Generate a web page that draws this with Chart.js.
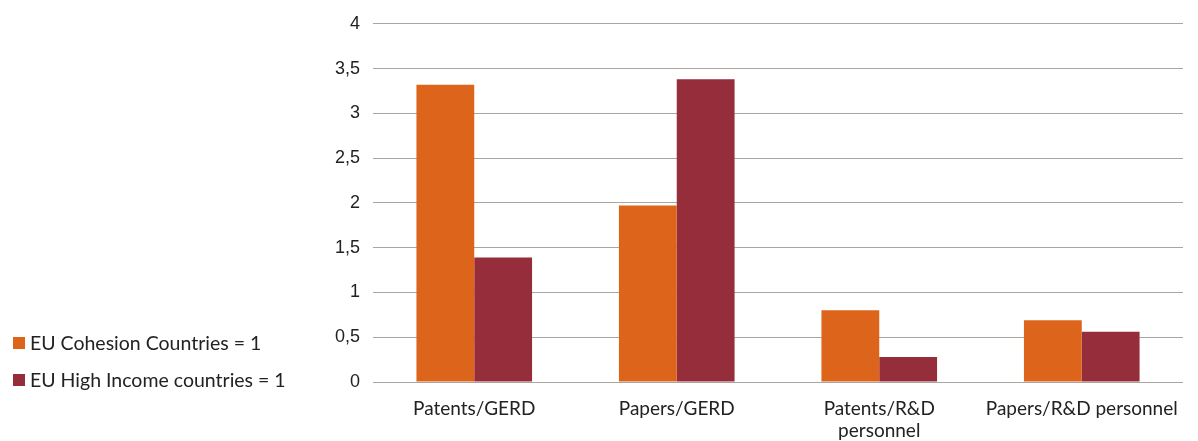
<!DOCTYPE html>
<html>
<head>
<meta charset="utf-8">
<script src="https://cdn.jsdelivr.net/npm/chart.js@4.4.0/dist/chart.umd.min.js"></script>
<style>
  html, body { margin: 0; padding: 0; background: #fff; }
  #wrap { position: relative; width: 1198px; height: 441px; }
  #legend { position: absolute; left: 13px; top: 324px; font-family: Lato, sans-serif; font-size: 19.5px; color: #222; }
  .item { display: flex; align-items: center; height: 37px; }
  .box { width: 12px; height: 12px; margin-right: 5px; }
</style>
</head>
<body>
<div id="wrap">
  <canvas id="chart" width="1198" height="441"></canvas>
  <div id="legend"></div>
</div>
<script>
  const categories = ["Patents/GERD", "Papers/GERD", ["Patents/R&D", "personnel"], "Papers/R&D personnel"];
  const cohesion = [3.32, 1.97, 0.80, 0.69];
  const highIncome = [1.39, 3.38, 0.28, 0.56];
  const seriesNames = ["EU Cohesion Countries = 1", "EU High Income countries = 1"];
  const colors = ["#dd651b", "#952d3a"];

  // легенда збоку, як окремий html-блок
  const legend = document.getElementById("legend");
  seriesNames.forEach((name, i) => {
    legend.innerHTML += `<div class="item"><span class="box" style="background:${colors[i]}"></span>${name}</div>`;
  });

  new Chart(document.getElementById("chart"), {
    type: "bar",
    data: {
      labels: categories,
      datasets: [
        { label: seriesNames[0], data: cohesion, backgroundColor: colors[0] },
        { label: seriesNames[1], data: highIncome, backgroundColor: colors[1] }
      ]
    },
    options: {
      responsive: false,
      animation: false,
      layout: { padding: { left: 328, right: 15, top: 14, bottom: 0 } },
      datasets: { bar: { categoryPercentage: 0.571, barPercentage: 1 } },
      plugins: { legend: { display: false }, tooltip: { enabled: false } },
      scales: {
        x: {
          afterFit: s => { s.height = 59; },
          grid: { display: false, drawTicks: false },
          border: { display: false },
          ticks: { color: "#222", font: { family: "Lato", size: 19, lineHeight: 1.15 }, padding: 16, maxRotation: 0 }
        },
        y: {
          min: 0, max: 4,
          afterFit: s => { s.width = 45; },
          grid: { color: "#aaa59f", lineWidth: 1, drawTicks: false },
          border: { display: false },
          ticks: {
            stepSize: 0.5, padding: 13, color: "#222",
            font: { family: "Liberation Sans", size: 18 },
            callback: v => String(v).replace(".", ",")
          }
        }
      }
    }
  });
</script>
</body>
</html>
